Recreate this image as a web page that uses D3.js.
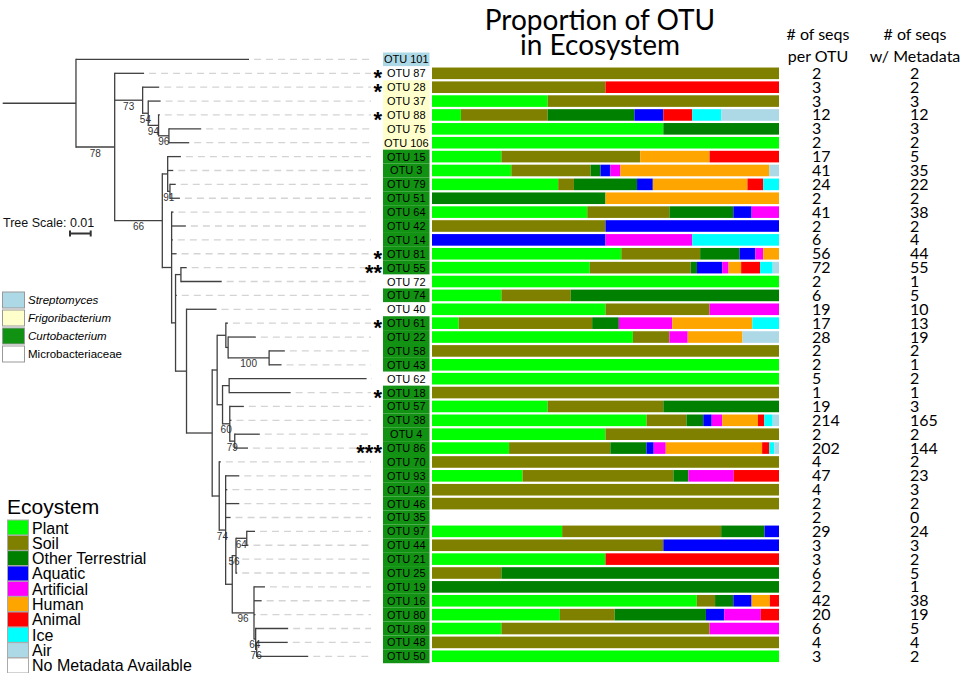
<!DOCTYPE html>
<html><head><meta charset="utf-8">
<script src="https://cdn.jsdelivr.net/npm/d3@7"></script>
<style>body{margin:0;background:#fff}svg{display:block}</style>
</head><body><svg id="c" width="964" height="673"></svg>
<script>
// ---------- DATA ----------
const otus = ["OTU 101","OTU 87","OTU 28","OTU 37","OTU 88","OTU 75","OTU 106","OTU 15","OTU 3","OTU 79","OTU 51","OTU 64","OTU 42","OTU 14","OTU 81","OTU 55","OTU 72","OTU 74","OTU 40","OTU 61","OTU 22","OTU 58","OTU 43","OTU 62","OTU 18","OTU 57","OTU 38","OTU 4","OTU 86","OTU 70","OTU 93","OTU 49","OTU 46","OTU 35","OTU 97","OTU 44","OTU 21","OTU 25","OTU 19","OTU 16","OTU 80","OTU 89","OTU 48","OTU 50"];
const genus = ["Streptomyces","Microbacteriaceae","Frigoribacterium","Frigoribacterium","Frigoribacterium","Frigoribacterium","Frigoribacterium","Curtobacterium","Curtobacterium","Curtobacterium","Curtobacterium","Curtobacterium","Curtobacterium","Curtobacterium","Curtobacterium","Curtobacterium","Microbacteriaceae","Curtobacterium","Microbacteriaceae","Curtobacterium","Curtobacterium","Curtobacterium","Curtobacterium","Microbacteriaceae","Curtobacterium","Curtobacterium","Curtobacterium","Curtobacterium","Curtobacterium","Curtobacterium","Curtobacterium","Curtobacterium","Curtobacterium","Curtobacterium","Curtobacterium","Curtobacterium","Curtobacterium","Curtobacterium","Curtobacterium","Curtobacterium","Curtobacterium","Curtobacterium","Curtobacterium","Curtobacterium"];
const stars = ["","*","*","","*","","","","","","","","","","*","**","","","","*","","","","","*","","","","***","","","","","","","","","","","","","","",""];
const genusNames = ["Streptomyces","Frigoribacterium","Curtobacterium","Microbacteriaceae"];
const genusColors = ["#add8e6","#ffffcc","#129212","#ffffff"];

const ecosystems = ["Plant","Soil","Other Terrestrial","Aquatic","Artificial","Human","Animal","Ice","Air"];
const ecoColors = ["#00ff00","#808000","#008000","#0000ff","#ff00ff","#ffa500","#ff0000","#00ffff","#add8e6"];

// bar OTUs (all except OTU 101), counts of sequences per ecosystem
const barOtus = otus.slice(1);
const plant      = [0,0,1,1,2,2,1,8,8,0,17,0,0,24,25,1,1,5,1,11,0,1,2,0,1,102,1,32,0,6,0,0,0,9,0,1,0,0,29,7,1,0,2];
const soil       = [2,1,2,3,0,0,2,8,1,0,9,1,0,10,16,0,1,3,5,2,2,0,0,1,1,19,1,42,2,10,3,2,0,11,2,0,1,0,2,3,3,4,0];
const otherTerr  = [0,0,0,3,1,0,0,1,4,1,7,0,0,5,1,0,3,0,1,0,0,0,0,0,1,8,0,15,0,1,0,0,0,3,0,0,4,1,2,5,0,0,0];
const aquatic    = [0,0,0,1,0,0,0,1,1,0,2,1,2,2,4,0,0,0,0,0,0,0,0,0,0,4,0,3,0,0,0,0,0,1,1,0,0,0,2,1,0,0,0];
const artificial = [0,0,0,0,0,0,0,1,0,0,3,0,1,1,1,0,0,2,2,1,0,0,0,0,0,5,0,5,0,3,0,0,0,0,0,0,0,0,0,2,1,0,0];
const human      = [0,0,0,0,0,0,1,15,6,1,0,0,0,2,2,0,0,0,3,3,0,0,0,0,0,17,0,40,0,0,0,0,0,0,0,0,0,0,2,0,0,0,0];
const animal     = [0,1,0,1,0,0,1,0,1,0,0,0,0,0,3,0,0,0,0,0,0,0,0,0,0,3,0,3,0,3,0,0,0,0,0,1,0,0,1,1,0,0,0];
const ice        = [0,0,0,1,0,0,0,0,1,0,0,0,1,0,2,0,0,0,1,0,0,0,0,0,0,4,0,2,0,0,0,0,0,0,0,0,0,0,0,0,0,0,0];
const air        = [0,0,0,2,0,0,0,1,0,0,0,0,0,0,1,0,0,0,0,2,0,0,0,0,0,3,0,2,0,0,0,0,0,0,0,0,0,0,0,0,0,0,0];
const seqsPerOTU   = [2,3,3,12,3,2,17,41,24,2,41,2,6,56,72,2,6,19,17,28,2,2,5,1,19,214,2,202,4,47,4,2,2,29,3,3,6,2,42,20,6,4,3];
const seqsWithMeta = [2,2,3,12,3,2,5,35,22,2,38,2,4,44,55,1,5,10,13,19,2,1,2,1,3,165,2,144,2,23,3,2,0,24,3,2,5,1,38,19,5,4,2];

// phylogeny (Newick, branch lengths in substitutions/site, internal labels = bootstrap)
const newick = `(OTU101:0.0836,(OTU87:0.0142,
(OTU28:0.0080,(OTU37:0.0060,(OTU88:0.0006,(OTU75:0.0156,OTU106:0.0098)96:0.0050)94:0.0050)54:0.0027)73:0.0135,
((OTU15:0.0064,OTU3:0.0027,(OTU79:0.0028,OTU51:0.0048)91:0.0011):0.0026,
(OTU64:0.0009,OTU42:0.0069,OTU14:0.0006,OTU81:0.0024,
((OTU55:0.0028,OTU72:0.0197):0.0026,OTU74:0.0006,
(OTU40:0.0145,
(((OTU61:0.0010,(OTU22:0.0134,(OTU58:0.0076,OTU43:0.0060)100:0.0198):0.0011):0.0042,
((OTU62:0.0664,OTU18:0.0297):0.0032,(OTU57:0.0068,OTU38:0.0008,(OTU4:0.0121,OTU86:0.0064)79:0.0024)60:0.0035):0.0026):0.0024,
(OTU70:0.0008,(OTU93:0.0066,OTU49:0.0008,OTU46:0.0066,OTU35:0.0024,
(((OTU97:0.0040,OTU44:0.0008)64:0.0052,OTU21:0.0006,OTU25:0.0006)56:0.0018,
(OTU19:0.0053,OTU16:0.0037,OTU80:0.0007,(OTU89:0.0157,(OTU48:0.0150,OTU50:0.0249)76:0.0005)64:0.0008)96:0.0105):0.0032)74:0.0031):0.0034
):0.0124):0.0053):0.0019):0.0045)66:0.0230)78:0.0187):0.0354;`;

// ---------- HELPERS ----------
function parseNewick(str){
  const s = str.replace(/\s+/g,"");
  let i = 0;
  function node(){
    const n = {};
    if (s[i] === "("){
      n.children = [];
      i++; n.children.push(node());
      while (s[i] === ","){ i++; n.children.push(node()); }
      i++;
    }
    let name = ""; while (i < s.length && !":,();".includes(s[i])) name += s[i++];
    n.name = name;
    n.length = 0;
    if (s[i] === ":"){ i++; let l = ""; while (i < s.length && !",();".includes(s[i])) l += s[i++]; n.length = +l; }
    return n;
  }
  return node();
}

const svg = d3.select("#c");
const sans = "Liberation Sans, Arial, sans-serif";
const tf = "Lato, 'Open Sans', sans-serif";

// ---------- SCALES ----------
const yRow = d3.scaleBand().domain(otus).range([52.5, 52.5 + 13.88*otus.length]).padding(0);
const cy = o => yRow(o) + yRow.bandwidth()/2;
const xs = d3.scaleLinear().domain([0, 0.01]).range([2.7, 23.4]);
const xb = d3.scaleLinear().domain([0, 1]).range([432, 779]);
const gColor = d3.scaleOrdinal().domain(genusNames).range(genusColors);
const eColor = d3.scaleOrdinal().domain(ecosystems).range(ecoColors);

// ---------- TREE ----------
const root = d3.hierarchy(parseNewick(newick));
root.each(n => { n.dist = (n.parent ? n.parent.dist : 0) + (n.data.length || 0); });
root.leaves().forEach(l => { l.label = l.data.name.replace(/^OTU/, "OTU "); l.py = cy(l.label); });
root.eachAfter(n => { if (n.children) n.py = (n.children[0].py + n.children[n.children.length-1].py)/2; });

const gTree = svg.append("g");
const lineCol = "#404040";
gTree.selectAll("line.lead").data(root.leaves()).join("line")
  .attr("x1", d => xs(d.dist) + 5).attr("x2", 371)
  .attr("y1", d => d.py).attr("y2", d => d.py)
  .attr("stroke", "#d4d4d4").attr("stroke-width", 1.3).attr("stroke-dasharray", "7,5");
gTree.append("line").attr("x1", xs(0)).attr("x2", xs(root.dist)).attr("y1", root.py).attr("y2", root.py)
  .attr("stroke", lineCol).attr("stroke-width", 1.3);
gTree.selectAll("line.h").data(root.descendants().filter(d => d.parent)).join("line")
  .attr("x1", d => xs(d.parent.dist)).attr("x2", d => xs(d.dist))
  .attr("y1", d => d.py).attr("y2", d => d.py)
  .attr("stroke", lineCol).attr("stroke-width", 1.3);
gTree.selectAll("line.v").data(root.descendants().filter(d => d.children)).join("line")
  .attr("x1", d => xs(d.dist)).attr("x2", d => xs(d.dist))
  .attr("y1", d => d.children[0].py).attr("y2", d => d.children[d.children.length-1].py)
  .attr("stroke", lineCol).attr("stroke-width", 1.3).attr("stroke-linecap", "square");
gTree.selectAll("text.bs").data(root.descendants().filter(d => d.children && d.parent && d.data.name !== "")).join("text")
  .attr("x", d => (xs(d.parent.dist) + xs(d.dist))/2).attr("y", d => d.py + 9.5)
  .attr("text-anchor", "middle").attr("font-family", sans)
  .attr("font-size", 10).attr("fill", "#333").text(d => d.data.name);

// tree scale
svg.append("text").attr("x", 3).attr("y", 227).attr("font-family", sans)
  .attr("font-size", 12.5).attr("fill", "#111").text("Tree Scale: 0.01");
const sb0 = 70, sb1 = 70 + xs(0.01) - xs(0);
svg.append("path").attr("d", `M${sb0},233.5H${sb1}M${sb0},230.5V236.5M${sb1},230.5V236.5`)
  .attr("stroke", "#333").attr("stroke-width", 2).attr("fill", "none");

// ---------- OTU LABELS ----------
const gLab = svg.append("g");
gLab.selectAll("rect").data(otus).join("rect")
  .attr("x", 383).attr("width", 46.5)
  .attr("y", d => yRow(d)).attr("height", yRow.bandwidth())
  .attr("fill", (d, i) => gColor(genus[i]));
gLab.selectAll("text.otu").data(otus).join("text")
  .attr("x", 406.3).attr("y", d => cy(d) + 4)
  .attr("text-anchor", "middle").attr("font-family", sans)
  .attr("font-size", 11).attr("fill", "#000").text(d => d);
gLab.selectAll("text.star").data(otus).join("text")
  .attr("x", 382).attr("y", d => cy(d) + 12)
  .attr("text-anchor", "end").attr("font-family", sans)
  .attr("font-weight", "bold").attr("font-size", 22).attr("fill", "#000")
  .text((d, i) => stars[i]);

// ---------- BARS ----------
const seriesArrays = [plant, soil, otherTerr, aquatic, artificial, human, animal, ice, air];
const table = barOtus.map((o, i) => {
  const r = { otu: o };
  ecosystems.forEach((e, k) => r[e] = seriesArrays[k][i]);
  return r;
});
const stacked = d3.stack().keys(ecosystems).offset(d3.stackOffsetExpand)(table);
const bh = 11.6;
svg.append("g").selectAll("g").data(stacked).join("g")
  .attr("fill", d => eColor(d.key))
  .selectAll("rect").data(d => d.filter(s => isFinite(s[0]) && isFinite(s[1]) && s[1] - s[0] > 0)).join("rect")
  .attr("x", d => xb(d[0])).attr("width", d => xb(d[1]) - xb(d[0]))
  .attr("y", d => cy(d.data.otu) - bh/2).attr("height", bh);

// ---------- TITLE ----------
svg.append("text").attr("x", 600).attr("y", 30).attr("text-anchor", "middle")
  .attr("font-family", tf).attr("font-size", 28).attr("fill", "#000").text("Proportion of OTU");
svg.append("text").attr("x", 600).attr("y", 55).attr("text-anchor", "middle")
  .attr("font-family", tf).attr("font-size", 28).attr("fill", "#000").text("in Ecosystem");

// ---------- NUMBER COLUMNS ----------
const hdr = [["# of seqs", 818, 40], ["per OTU", 818, 62], ["# of seqs", 915, 40], ["w/ Metadata", 915, 62]];
svg.selectAll("text.hdr").data(hdr).join("text")
  .attr("x", d => d[1]).attr("y", d => d[2]).attr("text-anchor", "middle")
  .attr("font-family", tf).attr("font-size", 16).attr("fill", "#000").text(d => d[0]);
svg.append("g").selectAll("text").data(barOtus).join("text")
  .attr("x", 812).attr("y", d => cy(d) + 5.5)
  .attr("font-family", tf).attr("font-size", 16).attr("fill", "#000")
  .text((d, i) => seqsPerOTU[i]);
svg.append("g").selectAll("text").data(barOtus).join("text")
  .attr("x", 910).attr("y", d => cy(d) + 5.5)
  .attr("font-family", tf).attr("font-size", 16).attr("fill", "#000")
  .text((d, i) => seqsWithMeta[i]);

// ---------- GENUS LEGEND ----------
const gl = svg.append("g");
gl.selectAll("rect").data(genusNames).join("rect")
  .attr("x", 2.5).attr("y", (d, i) => 292 + i*18).attr("width", 22).attr("height", 16)
  .attr("fill", d => gColor(d)).attr("stroke", "#999").attr("stroke-width", 1);
gl.selectAll("text").data(genusNames).join("text")
  .attr("x", 28).attr("y", (d, i) => 304 + i*18)
  .attr("font-family", sans).attr("font-size", 11.5)
  .attr("font-style", d => d === "Microbacteriaceae" ? "normal" : "italic")
  .attr("fill", "#000").text(d => d);

// ---------- ECOSYSTEM LEGEND ----------
const legItems = ecosystems.concat(["No Metadata Available"]);
const legColors = ecoColors.concat(["#ffffff"]);
const el = svg.append("g");
el.append("text").attr("x", 7).attr("y", 514).attr("font-family", sans)
  .attr("font-size", 21).attr("fill", "#000").text("Ecoystem");
el.selectAll("rect").data(legItems).join("rect")
  .attr("x", 7.5).attr("y", (d, i) => 520 + i*15.33).attr("width", 21).attr("height", 15)
  .attr("fill", (d, i) => legColors[i]).attr("stroke", "#aaa").attr("stroke-width", 1);
el.selectAll("text.it").data(legItems).join("text")
  .attr("x", 32).attr("y", (d, i) => 533.5 + i*15.33)
  .attr("font-family", sans).attr("font-size", 16)
  .attr("fill", "#000").text(d => d);
</script>
</body></html>
